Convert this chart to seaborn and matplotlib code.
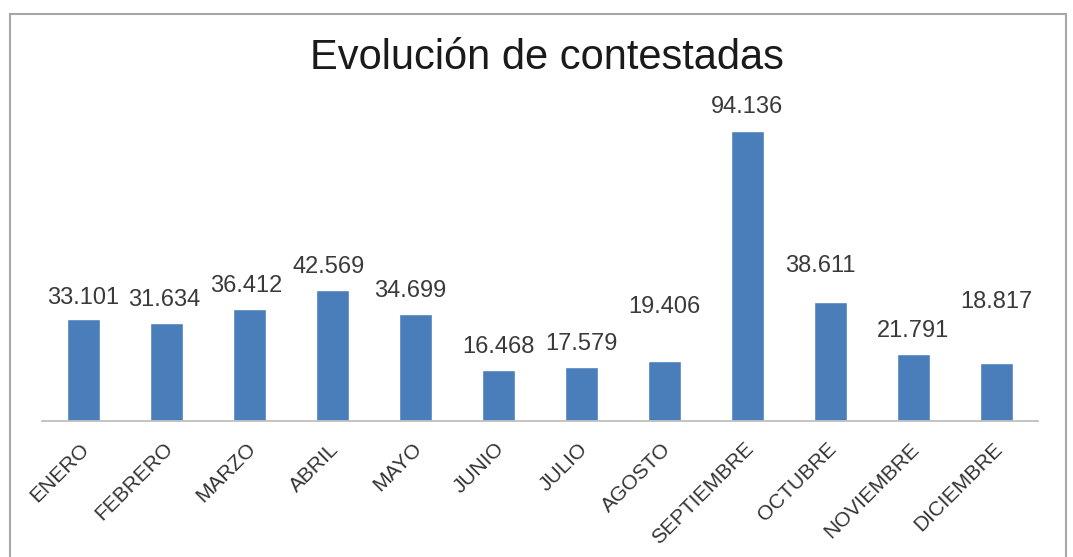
import matplotlib
matplotlib.use("Agg")
import matplotlib.pyplot as plt
import seaborn as sns
import pandas as pd
from matplotlib.patches import Rectangle
from matplotlib.transforms import ScaledTranslation

meses = ["ENERO", "FEBRERO", "MARZO", "ABRIL", "MAYO", "JUNIO", "JULIO",
         "AGOSTO", "SEPTIEMBRE", "OCTUBRE", "NOVIEMBRE", "DICIEMBRE"]
contestadas = [33101, 31634, 36412, 42569, 34699, 16468, 17579,
               19406, 94136, 38611, 21791, 18817]
etiquetas = ["33.101", "31.634", "36.412", "42.569", "34.699", "16.468", "17.579",
             "19.406", "94.136", "38.611", "21.791", "18.817"]

# label placement above each bar (pixels)
desplaz_x = [0, -2, -3, -4, -5, 0, 0, 0, 0, -10, 0, 0]
desplaz_y = [21, 23, 23, 23, 23, 23, 23, 54, 24, 36, 23, 61]

sns.set_theme(style="white")
plt.rcParams["font.family"] = ["Liberation Sans", "DejaVu Sans"]

W, H = 1073, 557
fig = plt.figure(figsize=(W / 100, H / 100), dpi=100)
ax = fig.add_axes([42 / W, (H - 421) / H, (1038 - 42) / W, (421 - 100) / H])

df = pd.DataFrame({"mes": meses, "valor": contestadas})
sns.barplot(data=df, x="mes", y="valor", color="#4A7EBB", width=0.39,
            saturation=1, ax=ax)

ax.set_ylim(0, 104100)
ax.set_xlim(-0.5, len(meses) - 0.5)
ax.set_xlabel("")
ax.set_ylabel("")
ax.set_yticks([])
for s in ["top", "left", "right"]:
    ax.spines[s].set_visible(False)
ax.spines["bottom"].set_color("#BFBFBF")
ax.spines["bottom"].set_linewidth(1.3)
ax.tick_params(axis="x", length=0, pad=18)
ax.set_xticks(range(len(meses)))
ax.set_xticklabels(meses, rotation=45, ha="right", va="center",
                   rotation_mode="anchor", fontsize=15, color="#333333")
shift = ScaledTranslation(3 / 100, 0, fig.dpi_scale_trans)
for lbl in ax.get_xticklabels():
    lbl.set_transform(lbl.get_transform() + shift)

for i, (v, t) in enumerate(zip(contestadas, etiquetas)):
    ax.annotate(t, xy=(i, v), xytext=(desplaz_x[i], desplaz_y[i]),
                textcoords="offset pixels", ha="center", va="center",
                fontsize=17, color="#3a3a3a")

fig.text(547 / W, (H - 58) / H, "Evolución de contestadas", ha="center",
         va="center", fontsize=30, color="#1a1a1a")

# chart frame
fig.patches.append(Rectangle((10 / W, -0.05), (1066 - 10) / W, 1.05 - 14 / H,
                             transform=fig.transFigure, fill=False,
                             edgecolor="#A6A6A6", linewidth=1.5))

fig.savefig("out.png", dpi=100)
